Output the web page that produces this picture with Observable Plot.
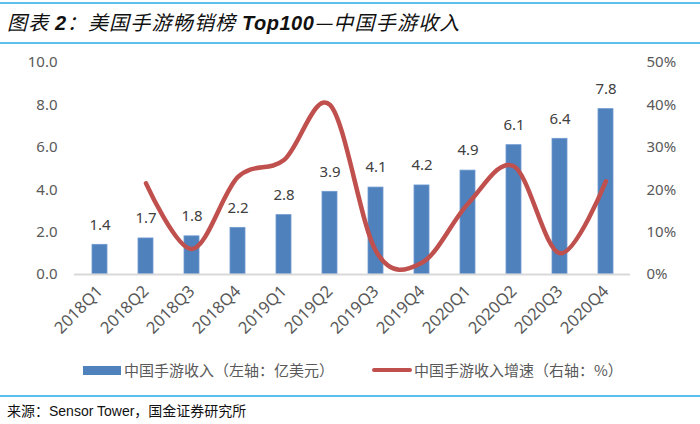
<!DOCTYPE html>
<html><head><meta charset="utf-8">
<script src="https://cdn.jsdelivr.net/npm/d3@7"></script>
<script src="https://cdn.jsdelivr.net/npm/@observablehq/plot@0.6"></script>
<style>
body{margin:0;background:#fff;width:700px;height:424px;overflow:hidden;font-family:"Noto Sans","Noto Sans CJK SC",sans-serif;}
#title{position:absolute;left:0;top:2px;width:700px;height:38px;border-top:2px solid #5BC0EB;border-bottom:2px solid #5BC0EB;box-sizing:content-box;}
#title span.t{position:absolute;left:7px;top:3px;font-size:20px;font-style:italic;color:#111;font-family:"Noto Sans CJK SC",sans-serif;letter-spacing:1.2px;}
#title b{font-family:"Liberation Sans",Arial,sans-serif;font-weight:bold;letter-spacing:0.5px;}
#chart{position:absolute;left:0;top:45px;}
#legend{position:absolute;top:359px;left:0;width:700px;height:22px;font-size:15px;color:#595959;font-family:"Noto Sans CJK SC",sans-serif;}
.sw{position:absolute;}
.lt{position:absolute;top:0;white-space:nowrap;}
#sep{position:absolute;left:0;top:395px;width:700px;height:0;border-top:2px solid #5BC0EB;}
#cap{position:absolute;left:7px;top:400px;font-size:14px;color:#111;font-family:"Noto Sans CJK SC",sans-serif;white-space:nowrap;}
#cap .en{font-family:"Liberation Sans",Arial,sans-serif;}
</style></head>
<body>
<div id="title"><span class="t">图表 <b>2</b>：美国手游畅销榜 <b>Top100</b>—中国手游收入</span></div>
<div id="chart"></div>
<div id="legend">
  <div class="sw" style="left:83px;top:7px;width:38px;height:9px;background:#4F81BD;"></div>
  <div class="lt" style="left:124px;">中国手游收入（左轴：亿美元）</div>
  <div class="sw" style="left:372px;top:9px;width:40px;height:4px;background:#C0504D;border-radius:2px;"></div>
  <div class="lt" style="left:414px;">中国手游收入增速（右轴：%）</div>
</div>
<div id="sep"></div>
<div id="cap">来源：<span class="en">Sensor Tower</span>，国金证券研究所</div>
<script>
const quarters = ["2018Q1","2018Q2","2018Q3","2018Q4","2019Q1","2019Q2","2019Q3","2019Q4","2020Q1","2020Q2","2020Q3","2020Q4"];
const revenue = [1.4,1.7,1.8,2.2,2.8,3.9,4.1,4.2,4.9,6.1,6.4,7.8];
const growth = [null,21.5,6.0,23.0,27.0,40.0,5.5,2.8,16.7,25.5,5.0,22.0];
const leftTicks = [0,2,4,6,8,10];
const rightTicks = [0,10,20,30,40,50];

const bars = quarters.map((q,i)=>({q, v: revenue[i]}));
const lineData = quarters.map((q,i)=>({q, g: growth[i]})).filter(d=>d.g!=null);

const chart = Plot.plot({
  width: 700,
  height: 300,
  marginTop: 17,
  marginBottom: 71,
  marginLeft: 74,
  marginRight: 70,
  style: {fontFamily: "'Noto Sans','Noto Sans CJK SC',sans-serif", background: "transparent"},
  x: {domain: quarters, paddingInner: 0.68, paddingOuter: 0.34, label: null},
  y: {domain: [0,10], label: null},
  marks: [
    Plot.axisY({ticks: leftTicks, tickFormat: d3.format(".1f"), tickSize: 0, tickPadding: 17, fontSize: 15, color: "#595959", label: null}),
    Plot.axisY({anchor: "right", ticks: rightTicks.map(t=>t/5), tickFormat: d => Math.round(d*5) + "%", tickSize: 0, tickPadding: 16, fontSize: 15, color: "#595959", label: null}),
    Plot.axisX({tickRotate: -45, tickSize: 0, tickPadding: 14, fontSize: 16.5, color: "#595959", label: null}),
    Plot.barY(bars, {x: "q", y: "v", fill: "#4F81BD", stroke: "#6E9AD0", strokeWidth: 0.8}),
    Plot.ruleY([0], {stroke: "#D9D9D9", strokeWidth: 2}),
    Plot.text(bars, {x: "q", y: "v", text: d => d3.format(".1f")(d.v), dy: -20, fontSize: 15, fill: "#404040"}),
    Plot.line(lineData, {x: "q", y: d => d.g / 5, stroke: "#C0504D", strokeWidth: 4.5, curve: "cardinal"})
  ]
});
document.getElementById("chart").appendChild(chart);
</script>
</body></html>
